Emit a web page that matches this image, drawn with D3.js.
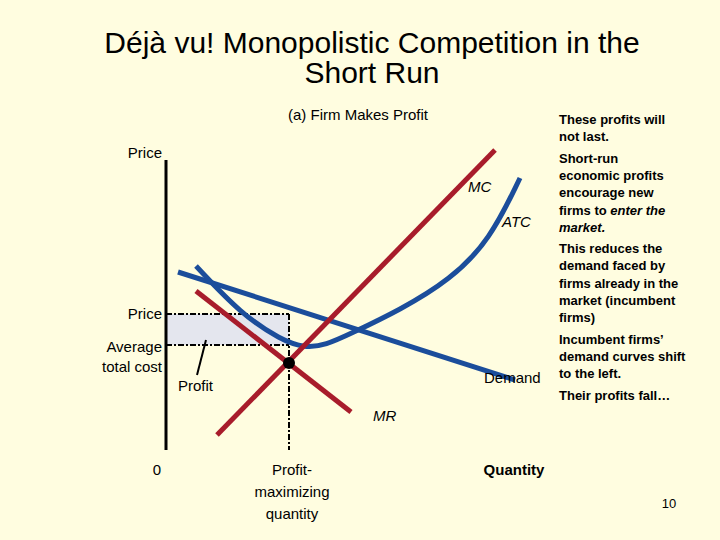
<!DOCTYPE html><html><head><meta charset="utf-8"><script src="https://cdn.jsdelivr.net/npm/d3@7"></script>
<style>body{margin:0;background:#fffde0}svg{font-family:Arial,"Liberation Sans",sans-serif}</style></head><body>
<script>
const demand=[[12,178],[349,70]];
const mr=[[30,159],[185,38]];
const mc=[[51,15],[329,300]];
const atc=[[30,184],[75,136],[115,110],[139,102],[160,105],[184,116],[234,140],[284,170],[324,210],[354,272]];
const priceLevel=136, atcLevel=105, qStar=123;
const notes=[["These profits will","not last."],["Short-run","economic profits","encourage new","firms to |enter the","|market."],["This reduces the","demand faced by","firms already in the","market (incumbent","firms)"],["Incumbent firms’","demand curves shift","to the left."],["Their profits fall…"]];
const svg=d3.select("body").append("svg").attr("width",720).attr("height",540);
svg.append("rect").attr("width",720).attr("height",540).attr("fill","#fffde0");
const x=d3.scaleLinear().domain([0,380]).range([166,546]);
const y=d3.scaleLinear().domain([0,290]).range([450,160]);
const T=(t,px,py,o={})=>svg.append("text").attr("x",px).attr("y",py).text(t).attr("font-size",o.s||15).attr("text-anchor",o.a||"start").attr("font-weight",o.w||"normal").attr("font-style",o.i||"normal").attr("fill","#000");
T("Déjà vu! Monopolistic Competition in the",372,53,{s:30,a:"middle"});
T("Short Run",372,83,{s:30,a:"middle"});
T("(a) Firm Makes Profit",358,120,{a:"middle"});
svg.append("rect").attr("x",x(0)).attr("y",y(priceLevel)).attr("width",x(qStar)-x(0)).attr("height",y(atcLevel)-y(priceLevel)).attr("fill","#e4e6ee");
const dash="6,2,2,2";
svg.append("line").attr("x1",x(0)).attr("x2",x(qStar)).attr("y1",y(priceLevel)).attr("y2",y(priceLevel)).attr("stroke","#000").attr("stroke-width",2).attr("stroke-dasharray",dash);
svg.append("line").attr("x1",x(0)).attr("x2",x(qStar)).attr("y1",y(atcLevel)).attr("y2",y(atcLevel)).attr("stroke","#000").attr("stroke-width",2).attr("stroke-dasharray",dash);
svg.append("line").attr("x1",x(qStar)).attr("x2",x(qStar)).attr("y1",y(priceLevel)).attr("y2",y(0)).attr("stroke","#000").attr("stroke-width",2).attr("stroke-dasharray",dash);
svg.append("line").attr("x1",x(0)).attr("x2",x(0)).attr("y1",y(290)).attr("y2",y(0)).attr("stroke","#000").attr("stroke-width",3);
const line=d3.line().x(d=>x(d[0])).y(d=>y(d[1]));
const cl=d3.line().x(d=>x(d[0])).y(d=>y(d[1])).curve(d3.curveBasis);
svg.append("path").attr("d",line(demand)).attr("stroke","#1b4d9b").attr("stroke-width",5).attr("fill","none");
svg.append("path").attr("d",cl(atc)).attr("stroke","#1b4d9b").attr("stroke-width",5).attr("fill","none");
svg.append("path").attr("d",line(mr)).attr("stroke","#a81c2b").attr("stroke-width",5).attr("fill","none");
svg.append("path").attr("d",line(mc)).attr("stroke","#a81c2b").attr("stroke-width",5).attr("fill","none");
svg.append("circle").attr("cx",x(qStar)).attr("cy",y(87)).attr("r",6).attr("fill","#000");
svg.append("line").attr("x1",206).attr("y1",340).attr("x2",197).attr("y2",375).attr("stroke","#000").attr("stroke-width",2);
T("Price",162,158,{a:"end"});
T("MC",468,192,{i:"italic"});T("ATC",502,227,{i:"italic"});
T("Price",162,319,{a:"end"});T("Average",162,352,{a:"end"});T("total cost",162,372,{a:"end"});
T("Profit",178,391);T("Demand",484,383);T("MR",373,421,{i:"italic"});
T("0",157,475,{a:"middle"});
T("Profit-",292,475,{a:"middle"});T("maximizing",292,497,{a:"middle"});T("quantity",292,519,{a:"middle"});
T("Quantity",514,475,{a:"middle",w:"bold"});
T("10",669,508,{s:13,a:"middle"});
let yy=124;
notes.forEach((g,gi)=>{g.forEach(l=>{const t=svg.append("text").attr("x",559).attr("y",yy).attr("font-size",13).attr("font-weight","bold");
 const parts=l.split("|");t.append("tspan").text(parts[0]);if(parts[1]!==undefined)t.append("tspan").attr("font-style","italic").text(parts[1]);yy+=17.3;});yy+=4;});
</script></body></html>
